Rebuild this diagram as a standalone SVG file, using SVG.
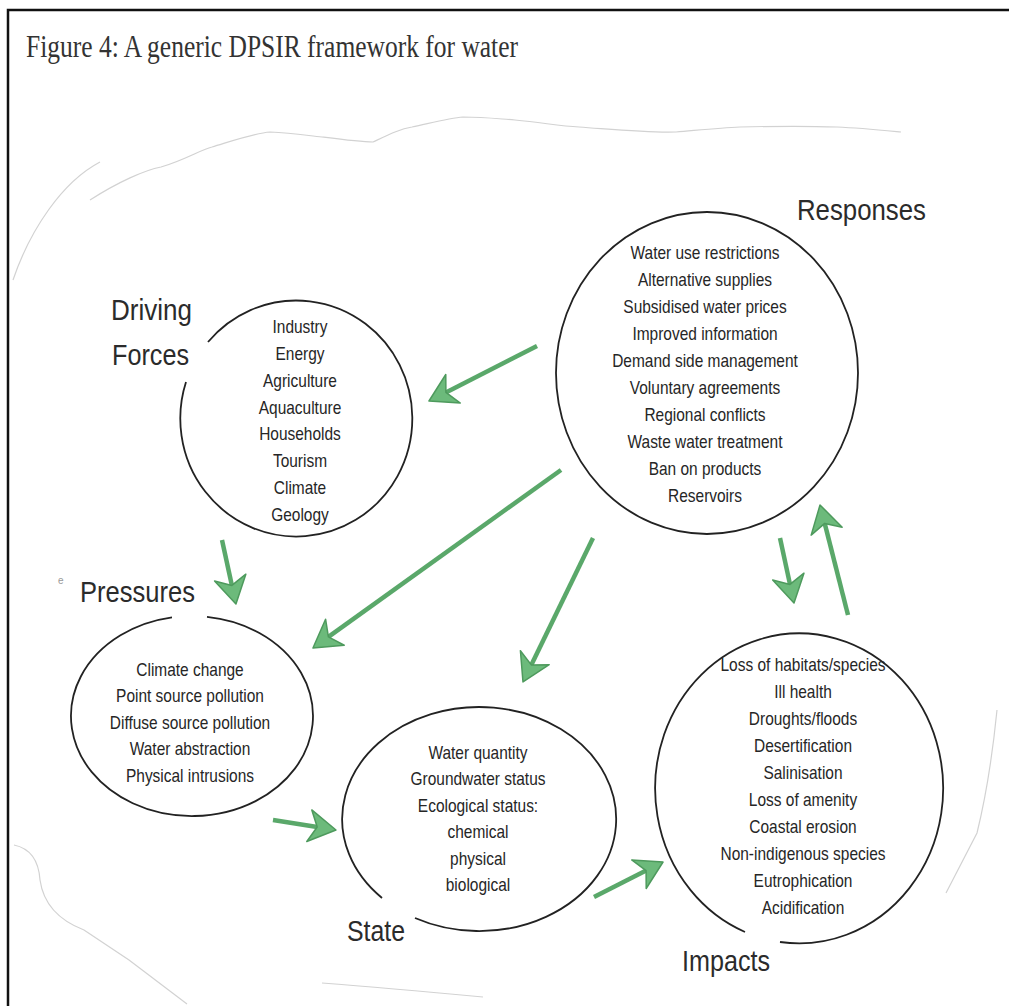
<svg xmlns="http://www.w3.org/2000/svg" width="1009" height="1006" viewBox="0 0 1009 1006">
<style>
.ring{fill:none;stroke:#222;stroke-width:1.8}
.item{font-family:"Liberation Sans",Arial,sans-serif;font-size:18px;fill:#262626;text-anchor:middle}
.label{font-family:"Liberation Sans",Arial,sans-serif;font-size:30px;fill:#2b2b2b}
.arrow{fill:none;stroke:#5aa86a;stroke-width:4.5;marker-end:url(#ah)}
.sketch{fill:none;stroke:#d2d2d2;stroke-width:1.2}
</style>
<defs>
<marker id="ah" markerUnits="userSpaceOnUse" viewBox="-10 -18 32 36" refX="0" refY="0" markerWidth="32" markerHeight="36" orient="auto">
<path d="M19,0 L-8,-16 L0,0 L-8,16 Z" fill="#6cba7b" stroke="#4e9a5d" stroke-width="1.5" stroke-linejoin="round"/>
</marker>
</defs>
<rect width="1009" height="1006" fill="#fff"/>
<path d="M8,1006 V10 H1009" fill="none" stroke="#111" stroke-width="2.5"/>
<text x="26" y="57" font-family="'Liberation Serif','Times New Roman',serif" font-size="32" fill="#333" textLength="492" lengthAdjust="spacingAndGlyphs">Figure 4: A generic DPSIR framework for water</text>

<g id="sketch">
<path class="sketch" d="M13,280 C30,230 62,182 100,162"/>
<path class="sketch" d="M90,200 C118,182 145,170 161,167 C185,160 200,150 212,147 C235,140 255,133 270,132 C295,133 310,136 322,137 C345,140 360,142 373,142 C390,134 400,129 412,127 C435,122 450,118 463,117 C485,117 500,119 515,120 C545,123 560,126 579,127"/>
<path class="sketch" stroke="#e2e2e2" d="M579,127 C620,130 650,133 676,132 C700,130 720,128 740,127 C780,126 810,126 837,127 C860,128 880,130 901,132"/>
<path class="sketch" d="M14,845 Q38,850 40,880 Q45,915 84,930 L129,960 L187,1004"/>
<path class="sketch" stroke="#e2e2e2" d="M322,983 Q386,988 483,997"/>
<path class="sketch" stroke="#e2e2e2" d="M997,710 Q990,780 977,833 L946,893"/>
</g>

<g id="connectors">
<path class="arrow" d="M537,346 L445.9,392.4"/>
<path class="arrow" d="M561,470 L328.4,636.9"/>
<path class="arrow" d="M593,538 L531.3,664.9"/>
<path class="arrow" d="M780,538 L790,584.4"/>
<path class="arrow" d="M848,615 L824.7,523.4"/>
<path class="arrow" d="M222,540 L231.9,585.4"/>
<path class="arrow" d="M273,820 L317.2,827"/>
<path class="arrow" d="M594,897 L646.1,870.6"/>
</g>

<g id="driving-forces">
<path class="ring" d="M208,342 A116,118 0 1 1 186,382"/>
<text class="label" x="111" y="320" textLength="81" lengthAdjust="spacingAndGlyphs">Driving</text>
<text class="label" x="112" y="365" textLength="77" lengthAdjust="spacingAndGlyphs">Forces</text>
<g transform="translate(300,0) scale(0.86,1)">
<text class="item" x="0" y="333">Industry</text>
<text class="item" x="0" y="360">Energy</text>
<text class="item" x="0" y="387">Agriculture</text>
<text class="item" x="0" y="414">Aquaculture</text>
<text class="item" x="0" y="440.5">Households</text>
<text class="item" x="0" y="467.5">Tourism</text>
<text class="item" x="0" y="494.5">Climate</text>
<text class="item" x="0" y="521">Geology</text>
</g>
</g>

<g id="responses">
<ellipse class="ring" cx="707" cy="373" rx="151" ry="161"/>
<text class="label" x="797" y="220" textLength="129" lengthAdjust="spacingAndGlyphs">Responses</text>
<g transform="translate(705,0) scale(0.86,1)">
<text class="item" x="0" y="259">Water use restrictions</text>
<text class="item" x="0" y="286">Alternative supplies</text>
<text class="item" x="0" y="313">Subsidised water prices</text>
<text class="item" x="0" y="340">Improved information</text>
<text class="item" x="0" y="367">Demand side management</text>
<text class="item" x="0" y="394">Voluntary agreements</text>
<text class="item" x="0" y="421">Regional conflicts</text>
<text class="item" x="0" y="448">Waste water treatment</text>
<text class="item" x="0" y="475">Ban on products</text>
<text class="item" x="0" y="502">Reservoirs</text>
</g>
</g>

<g id="pressures">
<path class="ring" d="M207,616.8 A121,100 0 1 1 172,617.4"/>
<text x="58" y="584" font-family="'Liberation Sans',Arial,sans-serif" font-size="10" fill="#999">e</text>
<text class="label" x="80" y="602" textLength="115" lengthAdjust="spacingAndGlyphs">Pressures</text>
<g transform="translate(190,0) scale(0.86,1)">
<text class="item" x="0" y="676">Climate change</text>
<text class="item" x="0" y="702.5">Point source pollution</text>
<text class="item" x="0" y="729">Diffuse source pollution</text>
<text class="item" x="0" y="755.5">Water abstraction</text>
<text class="item" x="0" y="782">Physical intrusions</text>
</g>
</g>

<g id="state">
<path class="ring" d="M415,918 A137,112 0 1 0 382,898"/>
<text class="label" x="347" y="941" textLength="58" lengthAdjust="spacingAndGlyphs">State</text>
<g transform="translate(478,0) scale(0.86,1)">
<text class="item" x="0" y="759">Water quantity</text>
<text class="item" x="0" y="785.5">Groundwater status</text>
<text class="item" x="0" y="812">Ecological status:</text>
<text class="item" x="0" y="838.5">chemical</text>
<text class="item" x="0" y="865">physical</text>
<text class="item" x="0" y="891.5">biological</text>
</g>
</g>

<g id="impacts">
<path class="ring" d="M780,942 A144,155 0 1 0 745,932"/>
<text class="label" x="682" y="971" textLength="88" lengthAdjust="spacingAndGlyphs">Impacts</text>
<g transform="translate(803,0) scale(0.86,1)">
<text class="item" x="0" y="671">Loss of habitats/species</text>
<text class="item" x="0" y="698">Ill health</text>
<text class="item" x="0" y="725">Droughts/floods</text>
<text class="item" x="0" y="752">Desertification</text>
<text class="item" x="0" y="779">Salinisation</text>
<text class="item" x="0" y="806">Loss of amenity</text>
<text class="item" x="0" y="833">Coastal erosion</text>
<text class="item" x="0" y="860">Non-indigenous species</text>
<text class="item" x="0" y="887">Eutrophication</text>
<text class="item" x="0" y="914">Acidification</text>
</g>
</g>
</svg>
